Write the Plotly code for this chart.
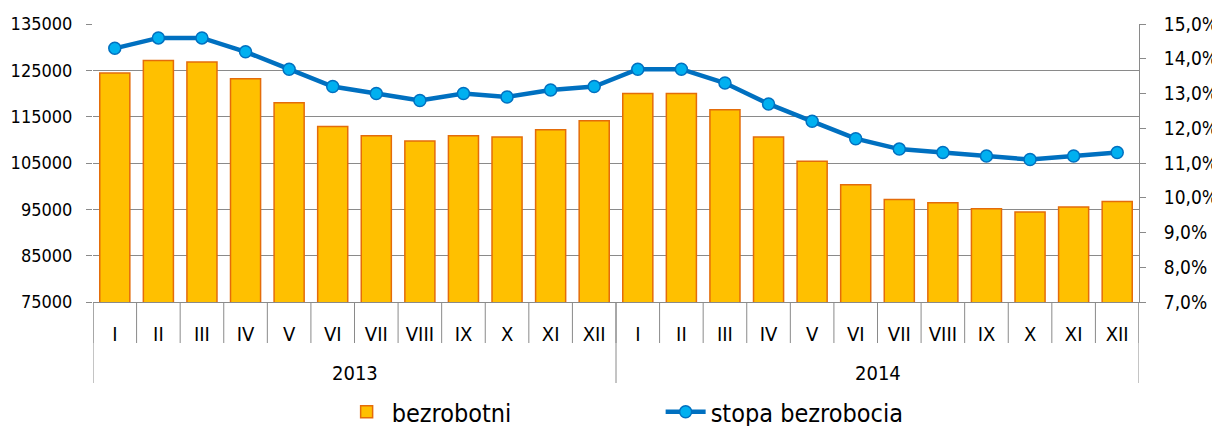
import plotly.graph_objects as go

months_names = ["I", "II", "III", "IV", "V", "VI", "VII", "VIII", "IX", "X", "XI", "XII"]
years = ["2013"] * 12 + ["2014"] * 12
months = months_names * 2

bezrobotni = [124400, 127100, 126800, 123200, 118000, 112900, 110900, 109750,
              110900, 110600, 112200, 114100,
              120000, 120000, 116500, 110600, 105400, 100300, 97100, 96400,
              95100, 94400, 95500, 96700]
stopa = [14.3, 14.6, 14.6, 14.2, 13.7, 13.2, 13.0, 12.8, 13.0, 12.9, 13.1, 13.2,
         13.7, 13.7, 13.3, 12.7, 12.2, 11.7, 11.4, 11.3, 11.2, 11.1, 11.2, 11.3]

FONT = "'DejaVu Sans Condensed', 'DejaVu Sans', sans-serif"
GRID = "#8a8a8a"

# the page places the figure 8px from the top-left corner of the window
W, H = 1212, 418
ML, MR, MT, MB = 85, 81, 16, 124
PH = H - MT - MB  # plot height in px

pos = list(range(len(months)))

fig = go.Figure()
fig.add_trace(go.Bar(
    x=pos, y=bezrobotni, name="bezrobotni",
    marker=dict(color="#FFC000", line=dict(color="#E46C0A", width=1.5)),
))
fig.add_trace(go.Scatter(
    x=pos, y=stopa, name="stopa bezrobocia", yaxis="y2",
    mode="lines+markers",
    line=dict(color="#0070C0", width=4.5),
    marker=dict(size=12, color="#00B0F0", line=dict(color="#0070C0", width=1.5)),
))

# category separators (month level and year level)
shapes = []
for i in range(len(months) + 1):
    shapes.append(dict(type="line", xref="x", yref="paper", x0=i - 0.5, x1=i - 0.5,
                       y0=0, y1=-41 / PH, line=dict(color=GRID, width=1)))
bounds = [0] + [i for i in range(1, len(years)) if years[i] != years[i - 1]] + [len(years)]
for b in bounds:
    shapes.append(dict(type="line", xref="x", yref="paper", x0=b - 0.5, x1=b - 0.5,
                       y0=0, y1=-81 / PH, line=dict(color=GRID, width=1)))

annotations = []
for a, b in zip(bounds[:-1], bounds[1:]):
    annotations.append(dict(text=years[a], xref="x", yref="paper", x=(a + b - 1) / 2,
                            y=-71 / PH, yanchor="middle", xanchor="center",
                            showarrow=False, font=dict(size=20)))

fig.update_layout(
    width=W, height=H,
    margin=dict(l=ML, r=MR, t=MT, b=MB, autoexpand=False),
    paper_bgcolor="white", plot_bgcolor="white",
    font=dict(family=FONT, size=19, color="#000000"),
    separators=", ",
    bargap=0.31,
    showlegend=True,
    legend=dict(orientation="h", x=0.2377, xanchor="left",
                yref="container", y=(H - 404) / H, yanchor="middle",
                font=dict(size=25), entrywidth=264, itemwidth=40),
    shapes=shapes,
    annotations=annotations,
    xaxis=dict(
        range=[-0.5, len(months) - 0.5], tickmode="array", tickvals=pos, ticktext=months,
        showline=True, linecolor=GRID, linewidth=1, ticks="", showgrid=False,
        zeroline=False, ticklabelstandoff=14, tickfont=dict(size=20), automargin=False,
    ),
    yaxis=dict(
        range=[75000, 135000], tick0=75000, dtick=10000, tickformat="d",
        showgrid=True, gridcolor=GRID, gridwidth=1, zeroline=False, showline=False,
        ticks="outside", ticklen=6, tickcolor=GRID, ticklabelstandoff=10,
        tickfont=dict(size=18), automargin=False,
    ),
    yaxis2=dict(
        range=[7, 15], tick0=7, dtick=1, tickformat=".1f", ticksuffix="%",
        overlaying="y", side="right", showgrid=False, zeroline=False,
        showline=True, linecolor=GRID, linewidth=1,
        ticks="outside", ticklen=6, tickcolor=GRID, ticklabelstandoff=14,
        tickfont=dict(size=19), automargin=False,
    ),
)

fig.write_html("out.html")
